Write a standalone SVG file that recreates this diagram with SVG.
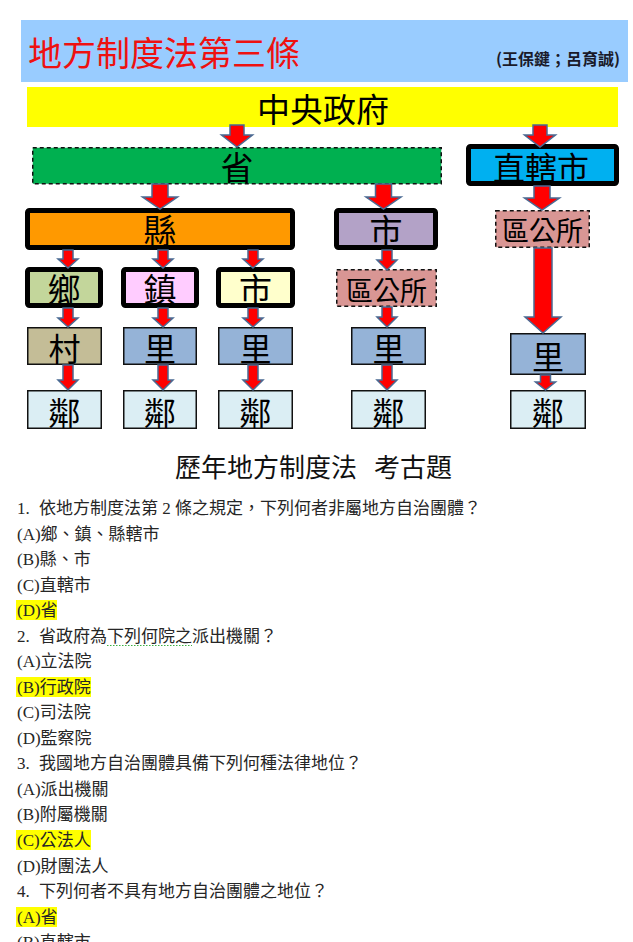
<svg xmlns="http://www.w3.org/2000/svg" width="633" height="942" viewBox="0 0 633 942">
<style>
.lbl{font-family:"Noto Sans CJK TC","Noto Sans CJK SC",sans-serif;fill:#000;text-anchor:middle;dominant-baseline:central}
.thick{stroke:#000;stroke-width:5}
.thin{stroke:#111;stroke-width:1.5}
.dash{stroke:#111;stroke-width:1.5;stroke-dasharray:4 3}
.arr{fill:#FF0000;stroke:#4A6A93;stroke-width:1.5;stroke-linejoin:miter}
.q{font-family:"Liberation Serif","Noto Sans CJK TC",serif;font-size:17px;fill:#262626}
.hl{fill:#FFFF00}
</style>
<rect width="633" height="942" fill="#fff"/>
<g id="banner">
<rect x="21" y="20" width="607" height="62" fill="#99CCFF"/>
<text x="28" y="66" font-family="Noto Sans CJK TC, sans-serif" font-size="34" fill="#EE1111">地方制度法第三條</text>
<text x="620" y="65" font-family="Noto Sans CJK TC, sans-serif" font-size="16" font-weight="bold" fill="#1a1a2a" text-anchor="end">(王保鍵；呂育誠)</text>
</g>
<g id="central">
<rect x="27" y="87" width="591" height="40" fill="#FFFF00"/>
<text class="lbl" x="323" y="108" font-size="33">中央政府</text>
</g>
<g id="province">
<rect class="dash" x="32.75" y="147.75" width="408.5" height="36" fill="#00B050"/>
<text class="lbl" x="237" y="166" font-size="33">省</text>
</g>
<g id="municipality">
<rect class="thick" x="468.5" y="146.5" width="148" height="37" rx="2" fill="#00B0F0"/>
<text class="lbl" x="541" y="166" font-size="32">直轄市</text>
</g>
<g id="county">
<rect class="thick" x="27.5" y="210.5" width="265" height="37" rx="2" fill="#FF9900"/>
<text class="lbl" x="160" y="229" font-size="33">縣</text>
</g>
<g id="city">
<rect class="thick" x="336.5" y="210.5" width="99" height="37" rx="2" fill="#B3A2C7"/>
<text class="lbl" x="386" y="229" font-size="33">市</text>
</g>
<g id="district-office-right">
<rect class="dash" x="495.75" y="210.75" width="93.5" height="36.5" fill="#D99694"/>
<text class="lbl" x="542.5" y="229.5" font-size="27">區公所</text>
</g>
<g id="township">
<rect class="thick" x="27.5" y="269.5" width="73" height="36" rx="2" fill="#C3D69B"/>
<text class="lbl" x="64" y="287.5" font-size="33">鄉</text>
</g>
<g id="town">
<rect class="thick" x="123.5" y="269.5" width="73" height="36" rx="2" fill="#FFCCFF"/>
<text class="lbl" x="160" y="287.5" font-size="33">鎮</text>
</g>
<g id="county-city">
<rect class="thick" x="218.5" y="269.5" width="74" height="36" rx="2" fill="#FFFFCC"/>
<text class="lbl" x="255.5" y="287.5" font-size="33">市</text>
</g>
<g id="district-office-mid">
<rect class="dash" x="336.75" y="269.75" width="99.5" height="36.5" fill="#D99694"/>
<text class="lbl" x="386.5" y="289" font-size="27">區公所</text>
</g>
<g id="village">
<rect class="thin" x="27.75" y="327.75" width="73.5" height="36.5" fill="#C4BD97"/>
<text class="lbl" x="64.5" y="347" font-size="32">村</text>
</g>
<g id="li-1">
<rect class="thin" x="123.75" y="327.75" width="72.5" height="36.5" fill="#95B3D7"/>
<text class="lbl" x="160" y="347" font-size="32">里</text>
</g>
<g id="li-2">
<rect class="thin" x="218.75" y="327.75" width="73.5" height="36.5" fill="#95B3D7"/>
<text class="lbl" x="255.5" y="347" font-size="32">里</text>
</g>
<g id="li-3">
<rect class="thin" x="351.75" y="327.75" width="73.5" height="36.5" fill="#95B3D7"/>
<text class="lbl" x="388.5" y="347" font-size="32">里</text>
</g>
<g id="li-right">
<rect class="thin" x="510.75" y="333.75" width="74.5" height="40.5" fill="#95B3D7"/>
<text class="lbl" x="548" y="355" font-size="32">里</text>
</g>
<g id="lin-1">
<rect class="thin" x="27.75" y="390.75" width="73.5" height="37.5" fill="#DBEEF4"/>
<text class="lbl" x="64.5" y="410.5" font-size="32">鄰</text>
</g>
<g id="lin-2">
<rect class="thin" x="123.75" y="390.75" width="72.5" height="37.5" fill="#DBEEF4"/>
<text class="lbl" x="160" y="410.5" font-size="32">鄰</text>
</g>
<g id="lin-3">
<rect class="thin" x="218.75" y="390.75" width="73.5" height="37.5" fill="#DBEEF4"/>
<text class="lbl" x="255.5" y="410.5" font-size="32">鄰</text>
</g>
<g id="lin-4">
<rect class="thin" x="351.75" y="390.75" width="73.5" height="37.5" fill="#DBEEF4"/>
<text class="lbl" x="388.5" y="410.5" font-size="32">鄰</text>
</g>
<g id="lin-5">
<rect class="thin" x="510.75" y="390.75" width="74.5" height="37.5" fill="#DBEEF4"/>
<text class="lbl" x="548" y="410.5" font-size="32">鄰</text>
</g>
<g id="connectors">
<path class="arr" d="M230,125 H244 V135 H252.5 L237,147 L221.5,135 H230 Z"/>
<path class="arr" d="M533,125 H547 V135 H555.5 L540,147 L524.5,135 H533 Z"/>
<path class="arr" d="M152,184 H168 V197 H177.5 L160,209 L142.5,197 H152 Z"/>
<path class="arr" d="M375.5,184 H391.5 V197 H401 L383.5,209 L366,197 H375.5 Z"/>
<path class="arr" d="M534,186 H550 V198 H559.5 L542,210 L524.5,198 H534 Z"/>
<path class="arr" d="M63,250 H73 V259 H78 L68,268 L58,259 H63 Z"/>
<path class="arr" d="M158,250 H168 V259 H173 L163,268 L153,259 H158 Z"/>
<path class="arr" d="M248,250 H258 V259 H263 L253,268 L243,259 H248 Z"/>
<path class="arr" d="M63,308 H73 V318 H78 L68,327 L58,318 H63 Z"/>
<path class="arr" d="M158,308 H168 V318 H173 L163,327 L153,318 H158 Z"/>
<path class="arr" d="M248,308 H258 V318 H263 L253,327 L243,318 H248 Z"/>
<path class="arr" d="M63,365 H73 V380 H78 L68,390 L58,380 H63 Z"/>
<path class="arr" d="M158,365 H168 V380 H173 L163,390 L153,380 H158 Z"/>
<path class="arr" d="M248,365 H258 V380 H263 L253,390 L243,380 H248 Z"/>
<path class="arr" d="M382,250 H392 V260 H397 L387,270 L377,260 H382 Z"/>
<path class="arr" d="M382,307 H392 V317 H397 L387,327 L377,317 H382 Z"/>
<path class="arr" d="M382,365 H392 V380 H397 L387,390 L377,380 H382 Z"/>
<path class="arr" d="M534,248 H552 V317 H561 L543,333 L525,317 H534 Z"/>
<path class="arr" d="M540.5,375 H550.5 V382 H555.5 L545.5,390 L535.5,382 H540.5 Z"/>
</g>
<text x="175" y="477" font-family="Noto Sans CJK TC, sans-serif" font-size="26" fill="#111">歷年地方制度法<tspan x="374">考古題</tspan></text>
<rect class="hl" x="16" y="600" width="41" height="20"/>
<rect class="hl" x="16" y="677" width="75" height="20"/>
<rect class="hl" x="16" y="830" width="75" height="20"/>
<rect class="hl" x="16" y="907" width="41" height="20"/>
<path d="M107,645.5 H192" stroke="#3CB043" stroke-width="1" stroke-dasharray="1.5 1.5" fill="none"/>
<text class="q" x="17" y="514">1.<tspan x="39">依地方制度法第 2 條之規定，下列何者非屬地方自治團體？</tspan></text>
<text class="q" x="17" y="540">(A)鄉、鎮、縣轄市</text>
<text class="q" x="17" y="565">(B)縣、市</text>
<text class="q" x="17" y="591">(C)直轄市</text>
<text class="q" x="17" y="616">(D)省</text>
<text class="q" x="17" y="642">2.<tspan x="39">省政府為下列何院之派出機關？</tspan></text>
<text class="q" x="17" y="667">(A)立法院</text>
<text class="q" x="17" y="693">(B)行政院</text>
<text class="q" x="17" y="718">(C)司法院</text>
<text class="q" x="17" y="744">(D)監察院</text>
<text class="q" x="17" y="769">3.<tspan x="39">我國地方自治團體具備下列何種法律地位？</tspan></text>
<text class="q" x="17" y="795">(A)派出機關</text>
<text class="q" x="17" y="820">(B)附屬機關</text>
<text class="q" x="17" y="846">(C)公法人</text>
<text class="q" x="17" y="872">(D)財團法人</text>
<text class="q" x="17" y="897">4.<tspan x="39">下列何者不具有地方自治團體之地位？</tspan></text>
<text class="q" x="17" y="923">(A)省</text>
<text class="q" x="17" y="948">(B)直轄市</text>
</svg>
